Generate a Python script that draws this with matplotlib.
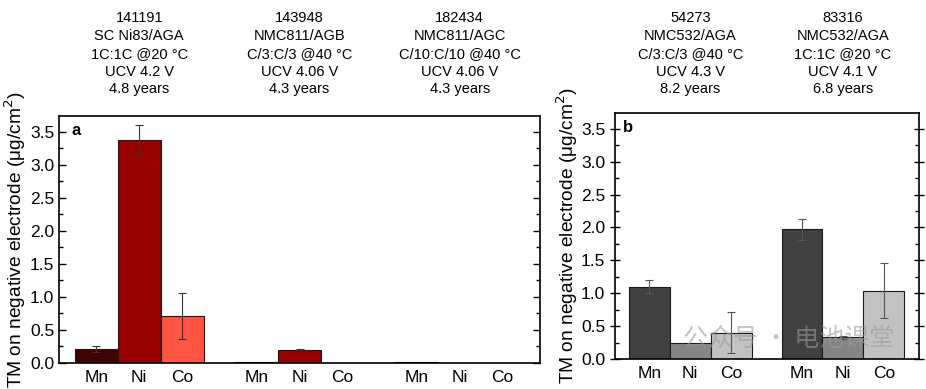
import matplotlib
matplotlib.use('Agg')
import matplotlib.pyplot as plt
import numpy as np
from matplotlib.ticker import MultipleLocator
from matplotlib.transforms import blended_transform_factory

plt.rcParams['font.family'] = ['Liberation Sans', 'DejaVu Sans']

elements = ['Mn', 'Ni', 'Co']

# panel a - three cells
cells_a = ['141191\nSC Ni83/AGA\n1C:1C @20 °C\nUCV 4.2 V\n4.8 years',
           '143948\nNMC811/AGB\nC/3:C/3 @40 °C\nUCV 4.06 V\n4.3 years',
           '182434\nNMC811/AGC\nC/10:C/10 @40 °C\nUCV 4.06 V\n4.3 years']
vals_a = [[0.21, 3.38, 0.71],
          [0.01, 0.20, 0.0],
          [0.01, 0.0, 0.0]]
errs_a = [[0.04, 0.22, 0.35],
          [0.0, 0.01, 0.0],
          [0.0, 0.0, 0.0]]
colors_a = ['#3f0303', '#990000', '#ff5343']

# panel b - two cells
cells_b = ['54273\nNMC532/AGA\nC/3:C/3 @40 °C\nUCV 4.3 V\n8.2 years',
           '83316\nNMC532/AGA\n1C:1C @20 °C\nUCV 4.1 V\n6.8 years']
vals_b = [[1.10, 0.24, 0.40],
          [1.97, 0.33, 1.04]]
errs_b = [[0.10, 0.0, 0.31],
          [0.16, 0.02, 0.42]]
colors_b = ['#404040', '#858585', '#c2c2c2']

W, H = 926, 389
fig = plt.figure(figsize=(W / 100, H / 100), dpi=100)

ax1 = fig.add_axes([59 / W, (H - 363) / H, 481 / W, 247 / H])
ax2 = fig.add_axes([615 / W, (H - 359) / H, 304 / W, 246 / H])

ylab = 'TM on negative electrode (μg/cm$^2$)'


def draw(ax, vals, errs, colors, cells, gap, xlim, label, ecol):
    ticks = []
    for g in range(len(vals)):
        x0 = g * gap
        xs = x0 + np.arange(3)
        ax.bar(xs, vals[g], width=1.0, color=colors, edgecolor='#1a1a1a', linewidth=0.8, zorder=2)
        for i in range(3):
            if errs[g][i] > 0:
                ax.errorbar(xs[i], vals[g][i], yerr=errs[g][i], fmt='none', ecolor=ecol,
                            elinewidth=0.8, capsize=3, capthick=0.8, zorder=3)
        ticks.extend(xs)
        tr = blended_transform_factory(ax.transData, fig.transFigure)
        ax.text(x0 + 1, 1 - 11 / H, cells[g], transform=tr, ha='center', va='top',
                fontsize=10.5, linespacing=1.35, family=['Liberation Sans Narrow', 'Liberation Sans', 'DejaVu Sans'])
    ax.set_xticks(ticks)
    ax.set_xticklabels(elements * len(vals), fontsize=12.5)
    ax.tick_params(axis='x', length=0, pad=5)
    ax.set_xlim(*xlim)
    ax.set_ylim(0, 3.74)
    ax.yaxis.set_major_locator(MultipleLocator(0.5))
    ax.yaxis.set_minor_locator(MultipleLocator(0.25))
    ax.yaxis.set_major_formatter(matplotlib.ticker.FormatStrFormatter('%.1f'))
    ax.tick_params(axis='y', labelsize=12.5, width=1, length=5, right=True, direction='in')
    ax.tick_params(axis='y', which='minor', length=3, width=1, right=True, direction='in')
    ax.set_ylabel(ylab, fontsize=13.8, labelpad=1)
    for s in ax.spines.values():
        s.set_linewidth(1.2)
    ax.text(0.025, 0.97, label, transform=ax.transAxes, fontsize=12, fontweight='bold',
            ha='left', va='top')


draw(ax1, vals_a, errs_a, colors_a, cells_a, 3.73, (-0.87, 10.33), 'a', '#333333')
draw(ax2, vals_b, errs_b, colors_b, cells_b, 3.73, (-0.84, 6.59), 'b', '#555555')
ax2.tick_params(axis='y', which='both', left=True, direction='inout')
ax2.tick_params(axis='y', which='both', right=True, direction='in')
ax2.tick_params(axis='y', which='major', left=True, length=7, direction='inout')

# watermark
ax2.text(0.92, 0.03, '公众号 · 电池课堂', transform=ax2.transAxes, ha='right', va='bottom',
         fontsize=18, color='#9a9a9a', alpha=0.6, family=['Noto Sans CJK SC', 'DejaVu Sans'], zorder=5)

fig.savefig('out.png', dpi=100)
